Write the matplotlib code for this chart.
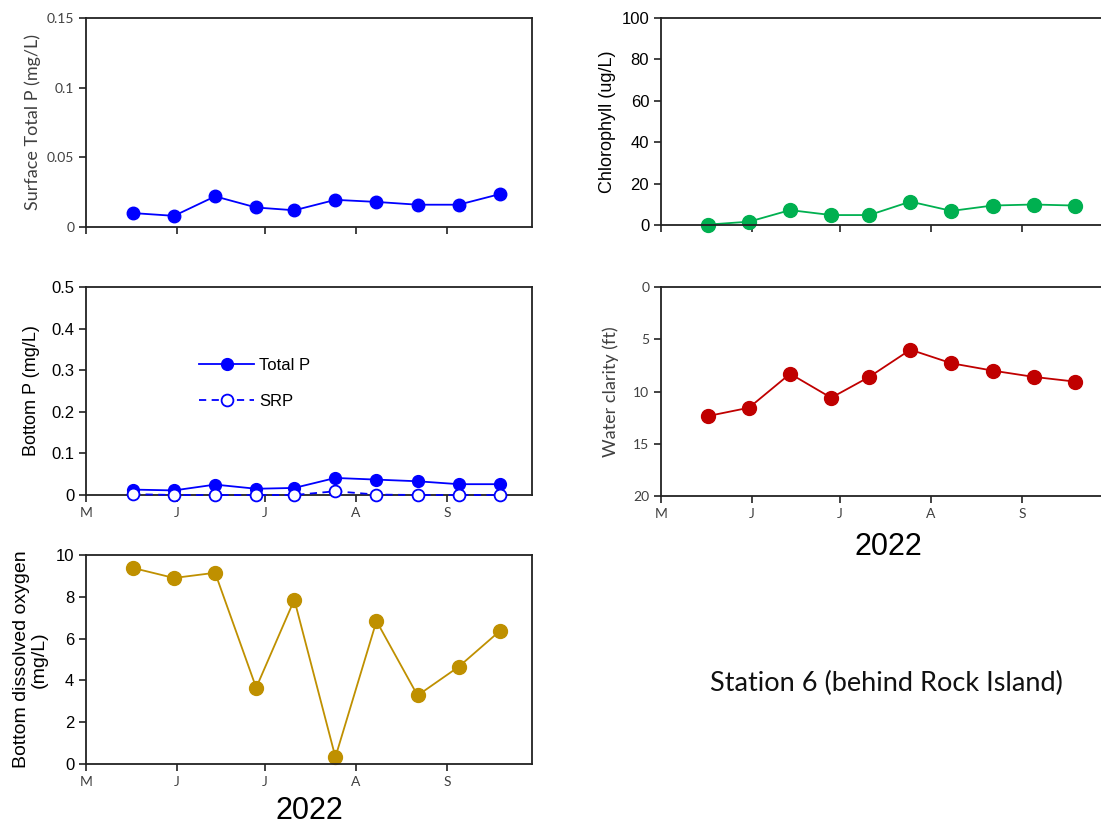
import datetime as dt
import matplotlib
matplotlib.use('Agg')
import matplotlib.pyplot as plt
import matplotlib.dates as mdates
from matplotlib.ticker import FuncFormatter, FixedLocator

# sampling dates, 2022 season
dates = [dt.date(2022, 5, 17), dt.date(2022, 5, 31), dt.date(2022, 6, 14),
         dt.date(2022, 6, 28), dt.date(2022, 7, 11), dt.date(2022, 7, 25),
         dt.date(2022, 8, 8), dt.date(2022, 8, 22), dt.date(2022, 9, 5),
         dt.date(2022, 9, 19)]

surface_tp = [0.010, 0.008, 0.022, 0.014, 0.012, 0.0195, 0.018, 0.016, 0.016, 0.0236]
chlorophyll = [0.2, 1.6, 7.2, 4.8, 4.8, 11.3, 6.8, 9.4, 9.9, 9.4]
bottom_tp = [0.013, 0.011, 0.025, 0.015, 0.017, 0.041, 0.037, 0.033, 0.026, 0.026]
bottom_srp = [0.002, 0.0, 0.0, 0.0, 0.0, 0.009, 0.001, 0.0, 0.0, 0.0]
secchi = [12.35, 11.55, 8.3, 10.6, 8.6, 6.0, 7.3, 8.0, 8.6, 9.05]
bottom_do = [9.38, 8.9, 9.15, 3.65, 7.86, 0.33, 6.84, 3.28, 4.65, 6.36]

month_ticks = [dt.date(2022, m, 1) for m in (5, 6, 7, 8, 9)]
x_start, x_end = dt.date(2022, 5, 1), dt.date(2022, 9, 30)

ARIAL = 'Liberation Sans'
CALIBRI = 'Lato'
W, H = 1101, 826

fig = plt.figure(figsize=(W / 100, H / 100), dpi=100)


def make_axes(left, top, right, bottom):
    ax = fig.add_axes([left / W, 1 - bottom / H, (right - left) / W, (bottom - top) / H])
    for s in ax.spines.values():
        s.set_linewidth(1.3)
        s.set_color('#222222')
    ax.set_xlim(mdates.date2num(x_start), mdates.date2num(x_end))
    ax.xaxis.set_major_locator(FixedLocator(mdates.date2num(month_ticks)))
    ax.xaxis.set_major_formatter(FuncFormatter(lambda v, p: mdates.num2date(v).strftime('%b')[0]))
    ax.tick_params(direction='out', length=5, width=1.2, color='#222222')
    return ax


def style_ticks(ax, yfont, ysize, ycolor, show_x=True):
    for lab in ax.get_yticklabels():
        lab.set_fontfamily(yfont)
        lab.set_fontsize(ysize)
        lab.set_color(ycolor)
    if show_x:
        for lab in ax.get_xticklabels():
            lab.set_fontfamily(CALIBRI)
            lab.set_fontsize(10)
            lab.set_color('#404040')
    else:
        ax.tick_params(axis='x', labelbottom=False)


gfmt = FuncFormatter(lambda v, p: '%g' % round(v, 3))

# surface total phosphorus
ax1 = make_axes(86, 18, 532, 227)
ax1.plot(dates, surface_tp, color='#0000FF', lw=1.3, marker='o', ms=9, clip_on=False)
ax1.set_ylim(0, 0.15)
ax1.set_yticks([0, 0.05, 0.1, 0.15])
ax1.yaxis.set_major_formatter(gfmt)
ax1.set_ylabel('Surface Total P (mg/L)', fontfamily=CALIBRI, fontsize=13, color='#404040', labelpad=4)
style_ticks(ax1, CALIBRI, 10, '#404040', show_x=False)

# bottom phosphorus
ax2 = make_axes(86, 287, 532, 495)
ax2.plot(dates, bottom_tp, color='#0000FF', lw=1.3, marker='o', ms=8.5, label='Total P',
         clip_on=False, zorder=3)
ax2.plot(dates, bottom_srp, color='#0000FF', lw=1.3, ls=(0, (4, 3)), marker='o', ms=8.5,
         mfc='white', mec='#0000FF', mew=1.3, label='SRP', clip_on=False, zorder=4)
ax2.set_ylim(0, 0.5)
ax2.set_yticks([0, 0.1, 0.2, 0.3, 0.4, 0.5])
ax2.yaxis.set_major_formatter(gfmt)
ax2.set_ylabel('Bottom P (mg/L)', fontfamily=ARIAL, fontsize=13, labelpad=8)
style_ticks(ax2, ARIAL, 12, 'black')
ax2.legend(loc='upper left', bbox_to_anchor=(0.22, 0.73), frameon=False, handlelength=3.3,
           labelspacing=1.25, prop={'family': ARIAL, 'size': 12}, handletextpad=0.3)

# bottom dissolved oxygen
ax3 = make_axes(86, 555, 532, 764)
ax3.plot(dates, bottom_do, color='#BF9000', lw=1.3, marker='o', ms=10, clip_on=False)
ax3.set_ylim(0, 10)
ax3.set_yticks([0, 2, 4, 6, 8, 10])
ax3.set_ylabel('Bottom dissolved oxygen\n(mg/L)', fontfamily=ARIAL, fontsize=14,
               linespacing=1.05, labelpad=6)
style_ticks(ax3, ARIAL, 12, 'black')
ax3.set_xlabel('2022', fontfamily=ARIAL, fontsize=22, labelpad=6)

# chlorophyll
ax4 = make_axes(661, 18, 1107, 225)
ax4.plot(dates, chlorophyll, color='#00B050', lw=1.3, marker='o', ms=10, clip_on=False)
ax4.set_ylim(0, 100)
ax4.set_yticks([0, 20, 40, 60, 80, 100])
ax4.set_ylabel('Chlorophyll (ug/L)', fontfamily=ARIAL, fontsize=13, labelpad=4)
style_ticks(ax4, ARIAL, 12, 'black', show_x=False)

# water clarity (Secchi depth), depth increases downward
ax5 = make_axes(661, 287, 1107, 496)
ax5.plot(dates, secchi, color='#C00000', lw=1.3, marker='o', ms=10, clip_on=False)
ax5.set_ylim(20, 0)
ax5.set_yticks([0, 5, 10, 15, 20])
ax5.set_ylabel('Water clarity (ft)', fontfamily=CALIBRI, fontsize=13, color='#404040', labelpad=10)
style_ticks(ax5, CALIBRI, 10, '#404040')
ax5.set_xlabel('2022', fontfamily=ARIAL, fontsize=22, labelpad=6)
ax5.xaxis.set_label_coords((888 - 661) / 446, -0.17)

fig.text(886 / W, 1 - 683 / H, 'Station 6 (behind Rock Island)', fontfamily=CALIBRI,
         fontsize=19.5, ha='center', va='center', color='#111111')

fig.savefig('out.png', dpi=100)
